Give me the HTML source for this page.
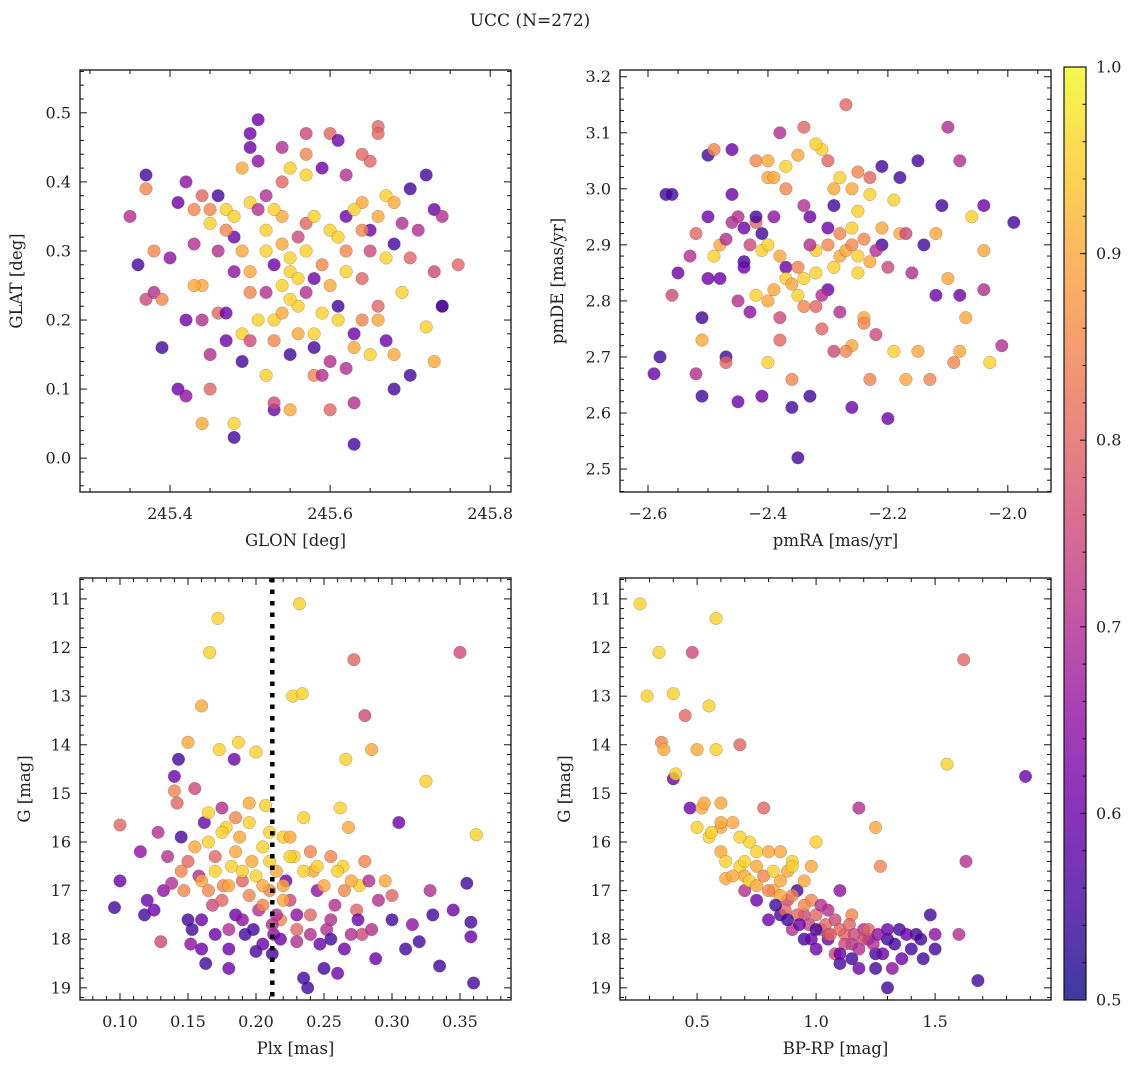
<!DOCTYPE html>
<html><head><meta charset="utf-8"><style>
html,body{margin:0;padding:0;background:#fff;}
svg{display:block;font-family:"DejaVu Serif","Liberation Serif",serif;}
</style></head><body>
<svg id="fig" width="1136" height="1067" viewBox="0 0 1136 1067">
<text x="530" y="26" font-size="17" text-anchor="middle" fill="#222">UCC (N=272)</text>
</svg>
<script>
// ---- Panel 1: GLON / GLAT ----
const glon=[245.36,245.37,245.37,245.35,245.37,245.38,245.38,245.39,245.39,245.40,245.41,245.42,245.41,245.42,245.42,245.43,245.43,245.44,245.44,245.44,245.45,245.45,245.45,245.46,245.46,245.47,245.47,245.48,245.48,245.48,245.48,245.49,245.49,245.49,245.5,245.5,245.5,245.5,245.5,245.51,245.51,245.51,245.52,245.52,245.52,245.53,245.53,245.53,245.54,245.54,245.54,245.55,245.55,245.55,245.55,245.56,245.56,245.57,245.57,245.57,245.58,245.58,245.58,245.59,245.6,245.6,245.6,245.61,245.61,245.62,245.62,245.62,245.63,245.63,245.63,245.64,245.64,245.65,245.65,245.66,245.66,245.67,245.67,245.68,245.68,245.68,245.69,245.7,245.7,245.71,245.72,245.72,245.73,245.73,245.73,245.74,245.74,245.76,245.74,
245.52,245.53,245.54,245.55,245.56,245.55,245.54,245.57,245.58,245.59,245.6,245.61,245.62,245.63,245.64,245.65,245.66,245.67,245.68,245.66,245.64,245.61,245.59,245.56,245.53,245.51,245.5,245.49,245.48,245.47,245.46,245.45,245.44,245.43,245.47,245.52,245.54,245.57,245.59,245.62,245.64,245.66,245.69,245.7,245.58,245.6,245.63,245.65,245.57,245.53];
const glat=[0.28,0.41,0.39,0.35,0.23,0.24,0.30,0.16,0.23,0.29,0.37,0.40,0.10,0.09,0.20,0.36,0.31,0.20,0.25,0.05,0.10,0.15,0.34,0.38,0.21,0.36,0.17,0.03,0.05,0.32,0.27,0.18,0.42,0.14,0.47,0.45,0.37,0.27,0.17,0.49,0.36,0.43,0.12,0.30,0.24,0.07,0.08,0.20,0.35,0.25,0.45,0.42,0.27,0.15,0.07,0.32,0.22,0.41,0.34,0.47,0.12,0.26,0.18,0.12,0.07,0.33,0.47,0.46,0.22,0.35,0.30,0.13,0.02,0.08,0.18,0.37,0.26,0.43,0.33,0.48,0.20,0.38,0.17,0.31,0.10,0.15,0.24,0.12,0.39,0.33,0.41,0.19,0.14,0.27,0.36,0.22,0.35,0.28,0.22,
0.33,0.36,0.31,0.29,0.26,0.23,0.21,0.30,0.35,0.28,0.25,0.32,0.27,0.36,0.33,0.30,0.35,0.29,0.37,0.22,0.20,0.20,0.21,0.18,0.17,0.20,0.24,0.30,0.35,0.33,0.30,0.36,0.38,0.25,0.21,0.38,0.40,0.44,0.42,0.41,0.44,0.47,0.34,0.29,0.16,0.14,0.16,0.15,0.24,0.28];
const c1=[0.55,0.55,0.85,0.7,0.75,0.7,0.85,0.55,0.85,0.65,0.6,0.65,0.6,0.65,0.6,0.85,0.7,0.7,0.9,0.9,0.8,0.7,0.95,0.55,0.8,0.95,0.6,0.55,0.95,0.6,0.65,0.95,0.9,0.55,0.6,0.6,0.95,0.9,0.75,0.6,0.7,0.65,0.95,0.95,0.7,0.6,0.75,0.95,0.9,0.95,0.7,0.95,0.95,0.55,0.9,0.75,0.95,0.95,0.8,0.75,0.85,0.6,0.95,0.7,0.8,0.95,0.8,0.6,0.55,0.6,0.85,0.7,0.55,0.7,0.6,0.9,0.8,0.8,0.6,0.8,0.9,0.95,0.6,0.55,0.55,0.9,0.95,0.55,0.55,0.7,0.55,0.95,0.9,0.75,0.6,0.7,0.7,0.8,0.55,
0.95,0.95,0.9,0.95,0.95,0.95,0.9,0.95,0.95,0.85,0.9,0.95,0.95,0.95,0.85,0.75,0.9,0.95,0.9,0.8,0.85,0.95,0.95,0.9,0.85,0.95,0.85,0.9,0.95,0.85,0.7,0.85,0.8,0.9,0.6,0.7,0.8,0.85,0.6,0.7,0.8,0.8,0.7,0.8,0.55,0.7,0.9,0.95,0.7,0.6];
// ---- Panel 2: pmRA / pmDE ----
const pmra=[-2.59,-2.58,-2.57,-2.56,-2.56,-2.55,-2.53,-2.52,-2.52,-2.51,-2.51,-2.51,-2.5,-2.5,-2.49,-2.48,-2.48,-2.47,-2.47,-2.46,-2.46,-2.45,-2.45,-2.44,-2.43,-2.42,-2.42,-2.42,-2.41,-2.41,-2.4,-2.4,-2.39,-2.39,-2.38,-2.38,-2.37,-2.37,-2.36,-2.36,-2.35,-2.35,-2.34,-2.34,-2.33,-2.32,-2.32,-2.31,-2.3,-2.3,-2.29,-2.29,-2.28,-2.27,-2.26,-2.26,-2.26,-2.25,-2.25,-2.24,-2.23,-2.23,-2.22,-2.21,-2.21,-2.2,-2.2,-2.19,-2.18,-2.18,-2.17,-2.16,-2.15,-2.15,-2.14,-2.13,-2.12,-2.12,-2.11,-2.1,-2.1,-2.09,-2.08,-2.08,-2.08,-2.07,-2.06,-2.04,-2.04,-2.04,-2.03,-2.01,-1.99,
-2.42,-2.41,-2.4,-2.38,-2.37,-2.36,-2.35,-2.34,-2.33,-2.32,-2.31,-2.3,-2.29,-2.28,-2.27,-2.26,-2.25,-2.24,-2.23,-2.22,-2.25,-2.26,-2.28,-2.3,-2.32,-2.35,-2.37,-2.39,-2.43,-2.44,-2.46,-2.47,-2.49,-2.5,-2.45,-2.4,-2.38,-2.34,-2.31,-2.28,-2.27,-2.24,-2.29,-2.33,-2.21,-2.19,-2.17,-2.23,-2.4,-2.44];
const pmde=[2.67,2.70,2.99,2.99,2.81,2.85,2.88,2.67,2.92,2.63,2.77,2.73,3.06,2.95,3.07,2.84,2.90,2.70,2.69,3.07,2.99,2.62,2.95,2.87,2.78,2.94,3.05,2.81,2.63,2.89,2.69,3.02,2.95,2.82,3.10,2.73,2.86,3.04,2.61,2.66,2.52,2.81,2.97,3.11,2.63,2.89,2.79,3.07,2.93,2.82,2.71,3.00,2.88,3.15,2.61,2.72,2.93,3.03,2.85,2.77,2.66,2.99,2.74,2.90,3.04,2.59,2.86,2.71,3.02,2.92,2.66,2.85,3.05,2.71,2.90,2.66,2.81,2.92,2.97,2.84,3.11,2.69,2.71,2.81,3.05,2.77,2.95,2.97,2.82,2.89,2.69,2.72,2.94,
2.95,2.92,2.90,2.88,2.84,2.83,2.86,2.84,2.90,2.85,2.81,2.90,2.86,2.92,2.89,2.90,2.88,2.91,2.87,2.89,2.96,3.00,3.02,3.05,3.08,3.06,3.00,3.02,2.90,2.93,2.94,2.91,2.88,2.84,2.80,2.80,2.77,2.79,2.75,2.78,2.71,2.76,2.97,2.95,2.93,2.98,2.92,3.02,3.05,2.86];
const c2=[0.6,0.55,0.55,0.55,0.75,0.6,0.7,0.7,0.8,0.55,0.55,0.9,0.55,0.6,0.85,0.6,0.9,0.55,0.8,0.6,0.6,0.6,0.7,0.55,0.65,0.8,0.85,0.95,0.6,0.95,0.95,0.9,0.65,0.9,0.7,0.8,0.6,0.95,0.55,0.85,0.55,0.95,0.7,0.8,0.55,0.95,0.8,0.95,0.6,0.6,0.75,0.9,0.9,0.8,0.6,0.9,0.95,0.85,0.95,0.9,0.85,0.95,0.75,0.55,0.55,0.6,0.75,0.95,0.55,0.9,0.9,0.7,0.55,0.9,0.55,0.85,0.6,0.9,0.55,0.9,0.7,0.85,0.9,0.6,0.7,0.9,0.95,0.6,0.7,0.9,0.95,0.7,0.55,
0.55,0.55,0.95,0.9,0.95,0.9,0.85,0.95,0.7,0.95,0.7,0.85,0.95,0.85,0.9,0.85,0.95,0.85,0.9,0.7,0.95,0.9,0.95,0.8,0.95,0.9,0.85,0.9,0.75,0.6,0.7,0.7,0.95,0.6,0.7,0.9,0.75,0.85,0.8,0.7,0.85,0.85,0.55,0.6,0.9,0.95,0.75,0.8,0.9,0.6];
// ---- Panel 3: Plx / G ----
const plx=[0.096,0.1,0.1,0.115,0.118,0.12,0.125,0.128,0.13,0.132,0.135,0.138,0.14,0.14,0.142,0.143,0.145,0.147,0.15,0.15,0.152,0.153,0.155,0.158,0.16,0.16,0.162,0.163,0.165,0.166,0.168,0.17,0.172,0.173,0.175,0.176,0.178,0.18,0.18,0.182,0.184,0.185,0.187,0.188,0.19,0.192,0.195,0.197,0.2,0.2,0.202,0.205,0.207,0.21,0.212,0.213,0.215,0.218,0.22,0.222,0.225,0.227,0.228,0.23,0.232,0.234,0.235,0.235,0.238,0.24,0.242,0.245,0.247,0.25,0.252,0.255,0.258,0.26,0.262,0.264,0.266,0.268,0.27,0.272,0.274,0.276,0.278,0.28,0.283,0.285,0.288,0.29,0.295,0.3,0.305,0.31,0.315,0.32,0.325,0.328,0.33,0.335,0.345,0.35,0.355,0.358,0.358,0.362,0.36,
0.16,0.165,0.17,0.175,0.18,0.185,0.19,0.195,0.2,0.205,0.21,0.215,0.22,0.225,0.23,0.235,0.24,0.245,0.25,0.255,0.26,0.265,0.27,0.275,0.28,0.218,0.212,0.205,0.198,0.19,0.18,0.17,0.16,0.15,0.145,0.155,0.165,0.175,0.185,0.195,0.21,0.225,0.24,0.255,0.265,0.285,0.3,0.23,0.22,0.205];
const gmag3=[17.35,15.65,16.8,16.2,17.5,17.2,17.4,15.8,18.05,17.0,16.3,16.85,14.65,14.95,15.2,14.3,15.9,17.0,16.4,13.95,18.1,17.8,14.9,16.7,13.2,17.6,15.6,18.5,16.0,12.1,17.3,16.3,11.4,14.1,15.3,16.9,15.7,18.2,18.6,16.5,14.3,17.5,13.95,15.9,16.8,17.9,15.2,16.4,18.25,14.15,17.4,16.1,15.25,17.0,18.3,17.9,16.6,17.6,15.9,16.8,17.2,13.0,16.3,18.05,11.1,12.95,15.5,18.8,19.0,17.5,16.6,17.0,18.1,18.6,17.8,16.3,17.3,18.7,15.3,16.5,14.3,15.7,17.9,12.25,17.4,16.9,17.9,13.4,16.8,14.1,18.4,17.2,16.8,17.6,15.6,18.2,17.7,18.05,14.75,17.0,17.5,18.55,17.4,12.1,16.85,17.65,17.95,15.85,18.9,
16.8,17.0,16.6,17.2,16.9,16.2,16.6,17.1,16.7,17.3,16.4,17.5,16.9,16.3,17.5,16.6,16.2,16.5,16.9,17.6,16.6,17.0,16.8,17.6,16.4,18.0,17.7,18.1,17.8,17.6,17.8,17.9,18.2,17.6,16.6,16.1,15.4,15.8,15.5,15.6,15.8,15.9,17.9,18.0,18.2,17.8,17.1,17.8,17.2,16.9];
const c3=[0.55,0.8,0.6,0.65,0.55,0.6,0.6,0.7,0.75,0.65,0.7,0.7,0.6,0.85,0.8,0.55,0.55,0.85,0.8,0.9,0.65,0.55,0.75,0.7,0.9,0.6,0.6,0.55,0.95,0.95,0.75,0.8,0.95,0.95,0.7,0.85,0.95,0.6,0.6,0.95,0.6,0.6,0.95,0.9,0.8,0.55,0.9,0.9,0.55,0.95,0.7,0.95,0.95,0.85,0.55,0.65,0.9,0.85,0.95,0.6,0.75,0.95,0.95,0.7,0.95,0.95,0.95,0.55,0.55,0.8,0.9,0.65,0.6,0.55,0.7,0.85,0.7,0.6,0.95,0.95,0.95,0.9,0.7,0.8,0.8,0.95,0.75,0.75,0.7,0.9,0.6,0.7,0.9,0.55,0.6,0.55,0.65,0.55,0.95,0.7,0.55,0.55,0.6,0.75,0.55,0.55,0.6,0.95,0.55,
0.9,0.85,0.95,0.8,0.9,0.9,0.95,0.85,0.95,0.85,0.95,0.7,0.9,0.95,0.65,0.95,0.85,0.95,0.9,0.7,0.95,0.85,0.9,0.6,0.85,0.6,0.7,0.6,0.55,0.65,0.7,0.6,0.6,0.55,0.85,0.9,0.95,0.95,0.85,0.95,0.95,0.9,0.7,0.55,0.6,0.7,0.8,0.8,0.9,0.9];
const plxLine=0.212;
// ---- Panel 4: BP-RP / G ----
const bprp=[0.26,0.29,0.34,0.35,0.36,0.4,0.4,0.41,0.45,0.47,0.48,0.5,0.5,0.52,0.55,0.55,0.58,0.58,0.6,0.6,0.62,0.65,0.68,0.68,0.7,0.72,0.75,0.75,0.78,0.8,0.8,0.82,0.85,0.85,0.88,0.9,0.9,0.92,0.95,0.95,0.98,1.0,1.0,1.02,1.05,1.05,1.08,1.1,1.1,1.12,1.15,1.15,1.18,1.18,1.2,1.22,1.25,1.25,1.27,1.3,1.3,1.32,1.35,1.4,1.42,1.45,1.48,1.5,1.5,1.55,1.6,1.62,1.63,1.68,1.88,0.98,0.7,0.88,1.05,0.6,
0.62,0.65,0.7,0.72,0.75,0.78,0.8,0.82,0.85,0.87,0.9,0.92,0.95,0.97,1.0,1.02,1.04,1.06,1.08,1.1,1.12,1.14,1.16,1.18,1.2,1.22,1.24,1.26,1.28,1.3,1.33,1.36,1.38,1.44,0.95,0.9,0.85,0.75,0.68,0.6,0.56,0.53,0.98,1.0,0.93,0.88,0.83,1.15,1.25,1.1];
const gmag4=[11.1,13.0,12.1,13.95,14.1,12.95,14.7,14.6,13.4,15.3,12.1,14.1,15.7,15.3,13.2,15.9,11.4,14.1,15.2,16.2,16.75,15.6,14.0,16.5,17.0,16.0,16.5,17.2,15.3,16.2,17.6,17.0,16.8,17.5,17.2,16.4,17.8,17.0,17.5,18.0,17.2,18.2,16.0,17.8,18.0,17.4,18.3,17.0,18.5,17.9,18.1,17.5,15.3,18.6,17.8,18.0,15.7,18.3,16.5,18.0,19.0,18.6,17.8,18.2,17.9,18.4,17.5,17.9,18.2,14.4,17.9,12.25,16.4,18.85,14.65,16.5,16.7,16.6,17.9,15.7,
16.4,16.7,16.4,16.8,16.9,16.7,17.0,16.6,17.1,17.4,17.1,17.5,17.3,17.7,17.5,17.3,17.7,17.9,17.6,17.8,18.1,17.7,17.9,18.2,18.0,17.8,18.1,17.9,18.3,17.8,18.1,18.4,17.9,18.0,16.8,16.5,16.2,16.2,15.9,15.6,15.8,15.2,18.0,17.8,17.7,17.6,17.3,18.4,18.6,18.3];
const c4=[0.95,0.95,0.95,0.85,0.9,0.95,0.6,0.95,0.8,0.6,0.75,0.9,0.95,0.9,0.95,0.95,0.95,0.95,0.9,0.9,0.9,0.9,0.8,0.95,0.7,0.95,0.9,0.6,0.8,0.9,0.6,0.9,0.9,0.55,0.75,0.95,0.7,0.55,0.75,0.55,0.85,0.6,0.95,0.8,0.6,0.7,0.75,0.65,0.55,0.8,0.7,0.85,0.7,0.6,0.7,0.65,0.9,0.55,0.85,0.55,0.55,0.65,0.55,0.55,0.55,0.55,0.55,0.65,0.55,0.95,0.7,0.8,0.7,0.55,0.6,0.9,0.9,0.9,0.75,0.9,
0.95,0.9,0.95,0.95,0.9,0.85,0.85,0.95,0.9,0.8,0.85,0.8,0.85,0.75,0.8,0.7,0.8,0.8,0.75,0.8,0.75,0.8,0.75,0.7,0.75,0.8,0.7,0.65,0.6,0.6,0.55,0.6,0.6,0.55,0.9,0.95,0.9,0.95,0.95,0.9,0.95,0.9,0.6,0.55,0.6,0.55,0.55,0.55,0.55,0.6];
// ---- Colorbar ----
const cbTicks=[0.5,0.6,0.7,0.8,0.9,1.0];

const NS="http://www.w3.org/2000/svg";
const svg=document.getElementById('fig');
function el(tag,attrs,parent){const e=document.createElementNS(NS,tag);for(const k in attrs)e.setAttribute(k,attrs[k]);(parent||svg).appendChild(e);return e;}
const stops=[[0,[13,8,135]],[0.1,[65,4,157]],[0.2,[106,0,168]],[0.3,[143,13,164]],[0.4,[177,42,144]],[0.5,[204,71,120]],[0.6,[225,100,98]],[0.7,[242,132,75]],[0.8,[252,166,54]],[0.9,[252,206,37]],[1,[240,249,33]]];
function plasma(t){t=Math.max(0,Math.min(1,t));for(let i=1;i<stops.length;i++){if(t<=stops[i][0]){const a=stops[i-1],b=stops[i];const f=(t-a[0])/(b[0]-a[0]);const c=a[1].map((v,j)=>Math.round(v+(b[1][j]-v)*f));return `rgb(${c.join(',')})`;}}return 'rgb(240,249,33)';}
function cnorm(v){return (v-0.5)/0.5;}

function panel(p){
  const g=el('g',{});
  
  
  const sx=v=>p.x0+(v-p.xmin)/(p.xmax-p.xmin)*(p.x1-p.x0);
  const sy=p.inv?(v=>p.y0+(v-p.ymin)/(p.ymax-p.ymin)*(p.y1-p.y0)):(v=>p.y1-(v-p.ymin)/(p.ymax-p.ymin)*(p.y1-p.y0));
  const pg=el('g',{},g);
  
  
  for(let i=0;i<p.xs.length;i++){
    const c=el('circle',{cx:sx(p.xs[i]).toFixed(1),cy:sy(p.ys[i]).toFixed(1),r:6.3,fill:plasma(cnorm(p.cs[i])),'fill-opacity':0.8,stroke:'#555','stroke-width':0.5,'stroke-opacity':0.5},pg);
    
    
  }
  if(p.vline!==undefined){
    const l=el('line',{x1:sx(p.vline),x2:sx(p.vline),y1:p.y0,y2:p.y1,stroke:'#000','stroke-width':4.5,'stroke-dasharray':'4.5,7'},g);
    
    
  }
  const tg=el('g',{stroke:'#111','stroke-width':1},g);
  const eps=1e-9;
  function range(a,b,s){const r=[];const st=Math.ceil((a-eps)/s);for(let k=st;k*s<=b+eps;k++)r.push(+(k*s).toFixed(6));return r;}
  for(const v of range(p.xmin,p.xmax,p.xminor)){const x=sx(v);const maj=Math.abs(v/p.xmajor-Math.round(v/p.xmajor))<1e-6;const L=maj?7:4;
    el('line',{x1:x,x2:x,y1:p.y1,y2:p.y1-L},tg);el('line',{x1:x,x2:x,y1:p.y0,y2:p.y0+L},tg);}
  for(const v of range(p.ymin,p.ymax,p.yminor)){const y=sy(v);const maj=Math.abs(v/p.ymajor-Math.round(v/p.ymajor))<1e-6;const L=maj?7:4;
    el('line',{x1:p.x0,x2:p.x0+L,y1:y,y2:y},tg);el('line',{x1:p.x1,x2:p.x1-L,y1:y,y2:y},tg);}
  const fr=el('rect',{x:p.x0,y:p.y0,width:p.x1-p.x0,height:p.y1-p.y0,fill:'none',stroke:'#111','stroke-width':1.3},g);
  
  
  for(const v of p.xticks){const t=el('text',{x:sx(v),y:p.y1+27,'font-size':16,'text-anchor':'middle',fill:'#222'},g);t.textContent=p.xfmt(v);
    
    }
  for(const v of p.yticks){const t=el('text',{x:p.x0-9,y:sy(v)+5.5,'font-size':16,'text-anchor':'end',fill:'#222'},g);t.textContent=p.yfmt(v);
    
    }
  const xl=el('text',{x:(p.x0+p.x1)/2,y:p.y1+54,'font-size':16.5,'text-anchor':'middle',fill:'#222'},g);xl.textContent=p.xlabel;
  
  
  const yx=p.ylx, yy=(p.y0+p.y1)/2;
  const yl=el('text',{x:yx,y:yy,'font-size':16.5,'text-anchor':'middle',fill:'#222',transform:`rotate(-90 ${yx} ${yy})`},g);yl.textContent=p.ylabel;
  
  
}
const f1=v=>v.toFixed(1), f2=v=>v.toFixed(2), f0=v=>v.toFixed(0), fm=v=>(v<0?'\u2212':'')+Math.abs(v).toFixed(1);
panel({name:'glon-glat-panel',x0:80,x1:511,y0:70,y1:492,xmin:245.2875,xmax:245.826,ymin:-0.049,ymax:0.562,inv:false,
  xmajor:0.2,xminor:0.05,ymajor:0.1,yminor:0.02,xticks:[245.4,245.6,245.8],yticks:[0,0.1,0.2,0.3,0.4,0.5],xfmt:f1,yfmt:f1,
  xs:glon,ys:glat,cs:c1,xlabel:'GLON [deg]',ylabel:'GLAT [deg]',ylx:22});
panel({name:'pmra-pmde-panel',x0:620,x1:1051,y0:70,y1:492,xmin:-2.6467,xmax:-1.928,ymin:2.459,ymax:3.212,inv:false,
  xmajor:0.2,xminor:0.05,ymajor:0.1,yminor:0.02,xticks:[-2.6,-2.4,-2.2,-2.0],yticks:[2.5,2.6,2.7,2.8,2.9,3.0,3.1,3.2],xfmt:fm,yfmt:f1,
  xs:pmra,ys:pmde,cs:c2,xlabel:'pmRA [mas/yr]',ylabel:'pmDE [mas/yr]',ylx:563});
panel({name:'plx-g-panel',x0:80,x1:511,y0:578,y1:1000,xmin:0.0706,xmax:0.3875,ymin:10.57,ymax:19.25,inv:true,
  xmajor:0.05,xminor:0.01,ymajor:1,yminor:0.2,xticks:[0.10,0.15,0.20,0.25,0.30,0.35],yticks:[11,12,13,14,15,16,17,18,19],xfmt:f2,yfmt:f0,
  xs:plx,ys:gmag3,cs:c3,vline:plxLine,xlabel:'Plx [mas]',ylabel:'G [mag]',ylx:30});
panel({name:'bprp-g-panel',x0:620,x1:1051,y0:578,y1:1000,xmin:0.176,xmax:1.987,ymin:10.57,ymax:19.25,inv:true,
  xmajor:0.5,xminor:0.1,ymajor:1,yminor:0.2,xticks:[0.5,1.0,1.5],yticks:[11,12,13,14,15,16,17,18,19],xfmt:f1,yfmt:f0,
  xs:bprp,ys:gmag4,cs:c4,xlabel:'BP-RP [mag]',ylabel:'G [mag]',ylx:570});

const cb=el('g',{});


const defs=el('defs',{},cb);
const lg=el('linearGradient',{id:'pg',x1:0,y1:1,x2:0,y2:0},defs);
for(const s of stops){el('stop',{offset:s[0],'stop-color':`rgb(${s[1].join(',')})`,'stop-opacity':0.8},lg);}
const cbx0=1064,cbx1=1086,cby0=67,cby1=1000;
el('rect',{x:cbx0,y:cby0,width:cbx1-cbx0,height:cby1-cby0,fill:'url(#pg)'},cb);
const cy=v=>cby1-(v-0.5)/0.5*(cby1-cby0);
for(let k=0;k<=25;k++){const v=0.5+k*0.02;const maj=k%5===0;const y=cy(v);
  el('line',{x1:cbx1,x2:cbx1-(maj?6:3.5),y1:y,y2:y,stroke:'#111','stroke-width':1},cb);}
el('rect',{x:cbx0,y:cby0,width:cbx1-cbx0,height:cby1-cby0,fill:'none',stroke:'#111','stroke-width':1.2},cb);
for(const v of cbTicks){const t=el('text',{x:cbx1+10,y:cy(v)+5.5,'font-size':16,fill:'#222'},cb);t.textContent=v.toFixed(1);
  
  }
</script>
</body></html>
